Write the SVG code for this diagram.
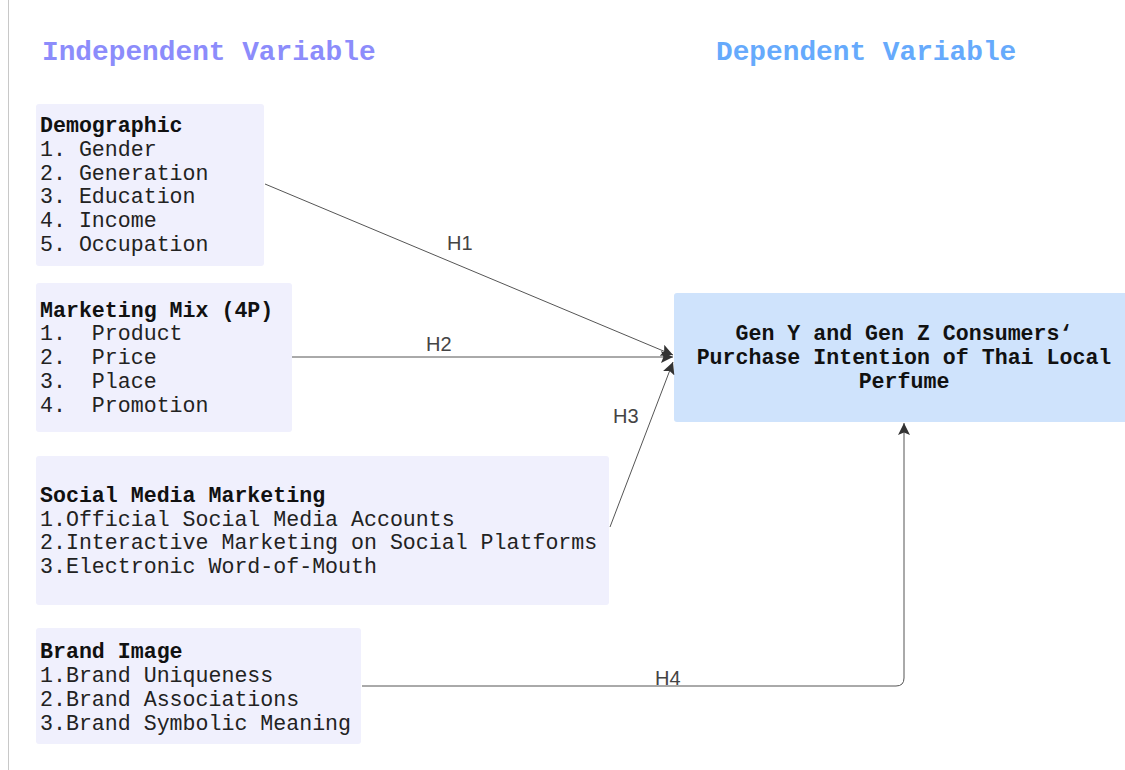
<svg xmlns="http://www.w3.org/2000/svg" width="1125" height="770" viewBox="0 0 1125 770">
<style>
.mono{font-family:"Liberation Mono","DejaVu Sans Mono",monospace;font-size:21.6px;fill:#222}
.b{font-weight:bold;fill:#111}
.title{font-family:"Liberation Mono","DejaVu Sans Mono",monospace;font-size:27.8px;font-weight:bold}
.box{fill:#f0f0fd}
.tgt{fill:#cfe3fc}
.conn{fill:none;stroke:#555;stroke-width:1}
.lbl{font-family:"Liberation Sans",Arial,sans-serif;font-size:20px;fill:#444}
</style>
<defs>
<marker id="arr" viewBox="0 0 10 10" refX="10" refY="5" markerWidth="12" markerHeight="12" markerUnits="userSpaceOnUse" orient="auto">
<path d="M0,0 L10,5 L0,10 L2,5 z" fill="#333"/>
</marker>
</defs>
<rect width="1125" height="770" fill="#fff"/>
<line x1="8.5" y1="0" x2="8.5" y2="770" stroke="#c8c8c8" stroke-width="1"/>
<text class="title" x="42" y="60" fill="#8c8cfb">Independent Variable</text>
<text class="title" x="716" y="60" fill="#66aafc">Dependent Variable</text>

<g id="demographic">
<rect class="box" x="36" y="104" width="228" height="162" rx="3"/>
<text class="mono b" x="40" y="132">Demographic</text>
<text class="mono" x="40" y="156">1. Gender</text>
<text class="mono" x="40" y="180">2. Generation</text>
<text class="mono" x="40" y="203">3. Education</text>
<text class="mono" x="40" y="227">4. Income</text>
<text class="mono" x="40" y="251">5. Occupation</text>
</g>
<g id="marketing-mix">
<rect class="box" x="36" y="283" width="256" height="149" rx="3"/>
<text class="mono b" x="40" y="317">Marketing Mix (4P)</text>
<text class="mono" x="40" y="340" xml:space="preserve">1.  Product</text>
<text class="mono" x="40" y="364" xml:space="preserve">2.  Price</text>
<text class="mono" x="40" y="388" xml:space="preserve">3.  Place</text>
<text class="mono" x="40" y="412" xml:space="preserve">4.  Promotion</text>
</g>
<g id="social-media">
<rect class="box" x="36" y="456" width="573" height="149" rx="3"/>
<text class="mono b" x="40" y="502">Social Media Marketing</text>
<text class="mono" x="40" y="526">1.Official Social Media Accounts</text>
<text class="mono" x="40" y="549">2.Interactive Marketing on Social Platforms</text>
<text class="mono" x="40" y="573">3.Electronic Word-of-Mouth</text>
</g>
<g id="brand-image">
<rect class="box" x="36" y="628" width="325" height="116" rx="3"/>
<text class="mono b" x="40" y="658">Brand Image</text>
<text class="mono" x="40" y="682">1.Brand Uniqueness</text>
<text class="mono" x="40" y="706">2.Brand Associations</text>
<text class="mono" x="40" y="730">3.Brand Symbolic Meaning</text>
</g>
<g id="purchase-intention">
<rect class="tgt" x="674" y="293" width="455" height="129" rx="3"/>
<text class="mono b" x="904" y="340" text-anchor="middle">Gen Y and Gen Z Consumers‘</text>
<text class="mono b" x="904" y="364" text-anchor="middle">Purchase Intention of Thai Local</text>
<text class="mono b" x="904" y="388" text-anchor="middle">Perfume</text>
</g>

<g id="connectors">
<path class="conn" d="M265,184 L673,355" marker-end="url(#arr)"/>
<path class="conn" d="M292,357 L673,357" marker-end="url(#arr)"/>
<path class="conn" d="M610,527 L673,362" marker-end="url(#arr)"/>
<path class="conn" d="M362,686 L896,686 Q904,686 904,678 L904,423" marker-end="url(#arr)"/>
<text class="lbl" x="447" y="250">H1</text>
<text class="lbl" x="426" y="351">H2</text>
<text class="lbl" x="613" y="423">H3</text>
<text class="lbl" x="655" y="685">H4</text>
</g>
</svg>
